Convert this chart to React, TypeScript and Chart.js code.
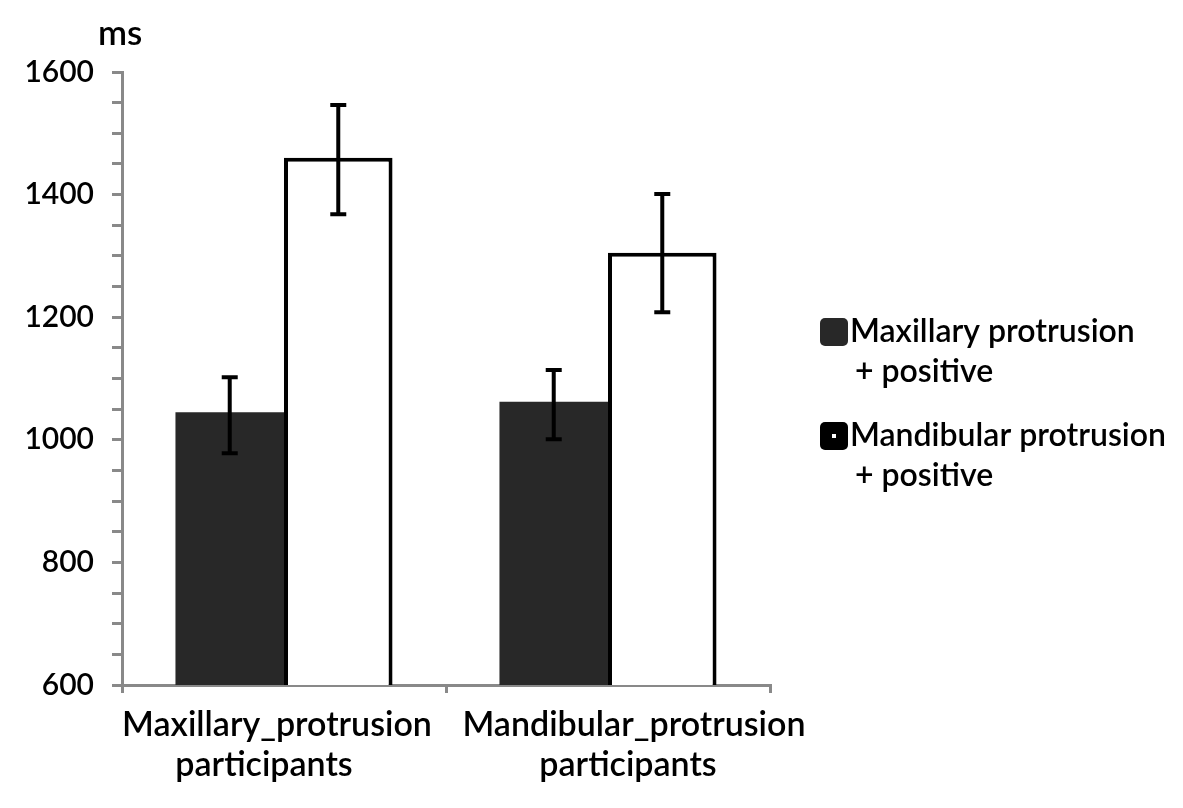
import { useEffect, useRef } from 'react';
import { Chart, registerables } from 'chart.js';

Chart.register(...registerables);

// categories on the x axis (two-line labels)
const categories = [
  ['Maxillary_protrusion', 'participants'],
  ['Mandibular_protrusion', 'participants'],
];

// legend / series names
const seriesNames = [
  ['Maxillary protrusion', '+ positive'],
  ['Mandibular protrusion', '+ positive'],
];

// mean reaction times (ms)
const maxillaryPositive = [1045, 1062];
const mandibularPositive = [1460, 1305];

// error bar ends (ms)
const maxillaryLow = [978, 1001];
const maxillaryHigh = [1102, 1114];
const mandibularLow = [1368, 1208];
const mandibularHigh = [1546, 1401];

const yMin = 600;
const yMax = 1600;
const yStep = 50;
const yLabelStep = 200;

const FONT = 'Lato, "Open Sans", sans-serif';
const WEIGHT = 600;
const AXIS_GREY = '#898989';
const DARK = '#282828';

// the original's category labels sit a little off the category centres
const labelNudge = [
  [-7, -20],
  [26, 20],
];

const errorBars = {
  id: 'errorBars',
  afterDatasetsDraw(chart: any) {
    const { ctx } = chart;
    const y = chart.scales.y;
    const ends = [
      [maxillaryLow, maxillaryHigh],
      [mandibularLow, mandibularHigh],
    ];
    ctx.save();
    ctx.strokeStyle = '#000';
    ctx.lineWidth = 4;
    chart.data.datasets.forEach((_: any, i: number) => {
      const meta = chart.getDatasetMeta(i);
      meta.data.forEach((bar: any, j: number) => {
        const lo = y.getPixelForValue(ends[i][0][j]);
        const hi = y.getPixelForValue(ends[i][1][j]);
        ctx.beginPath();
        ctx.moveTo(bar.x, lo);
        ctx.lineTo(bar.x, hi);
        ctx.moveTo(bar.x - 8, lo);
        ctx.lineTo(bar.x + 8, lo);
        ctx.moveTo(bar.x - 8, hi);
        ctx.lineTo(bar.x + 8, hi);
        ctx.stroke();
      });
    });
    ctx.restore();
  },
};

const textLayer = {
  id: 'textLayer',
  afterDraw(chart: any) {
    const { ctx, chartArea } = chart;
    const xs = chart.scales.x;
    ctx.save();
    ctx.fillStyle = '#000';

    // category labels
    ctx.font = `${WEIGHT} 34px ${FONT}`;
    ctx.textAlign = 'center';
    ctx.textBaseline = 'alphabetic';
    categories.forEach((lines, i) => {
      const cx = xs.getPixelForValue(i);
      lines.forEach((t, k) => {
        ctx.fillText(t, cx + labelNudge[i][k], chartArea.bottom + 51 + k * 40);
      });
    });

    // legend
    ctx.font = `${WEIGHT} 32px ${FONT}`;
    ctx.textAlign = 'left';
    ctx.textBaseline = 'middle';
    const x0 = chartArea.right + 50;
    const tops = [318, 422];
    seriesNames.forEach((lines, i) => {
      const top = tops[i];
      ctx.beginPath();
      ctx.roundRect(x0, top, 28, 28, 5);
      ctx.fillStyle = i === 0 ? DARK : '#000';
      ctx.fill();
      if (i === 1) {
        ctx.fillStyle = '#fff';
        ctx.fillRect(x0 + 12, top + 12, 4, 4);
      }
      ctx.fillStyle = '#000';
      ctx.fillText(lines[0], x0 + 30, top + 14);
      ctx.fillText(lines[1], x0 + 35, top + 54);
    });

    // unit label above the y axis
    ctx.font = `${WEIGHT} 35px ${FONT}`;
    ctx.fillText('ms', chartArea.left - 24, 34);
    ctx.restore();
  },
};

export default function App() {
  const canvasRef = useRef<HTMLCanvasElement>(null);
  const chartRef = useRef<Chart | null>(null);

  useEffect(() => {
    if (!canvasRef.current) return;
    if (chartRef.current) chartRef.current.destroy();

    chartRef.current = new Chart(canvasRef.current, {
      type: 'bar',
      data: {
        labels: categories.map((c) => c.join(' ')),
        datasets: [
          {
            label: seriesNames[0].join(' '),
            data: maxillaryPositive,
            backgroundColor: DARK,
            borderWidth: 0,
          },
          {
            label: seriesNames[1].join(' '),
            data: mandibularPositive,
            backgroundColor: '#fff',
            borderColor: '#000',
            borderWidth: 4,
            borderSkipped: 'bottom',
          },
        ],
      },
      options: {
        responsive: false,
        animation: false,
        datasets: {
          bar: { categoryPercentage: 0.67, barPercentage: 1 },
        },
        layout: { padding: { top: 72, right: 413, bottom: 0, left: 0 } },
        plugins: {
          legend: { display: false },
          tooltip: { enabled: false },
        },
        scales: {
          x: {
            grid: {
              display: true,
              drawOnChartArea: false,
              offset: true,
              color: AXIS_GREY,
              lineWidth: 3,
              tickLength: 8,
            },
            border: { color: AXIS_GREY, width: 3 },
            ticks: { display: false },
            afterFit: (s: any) => { s.height = 808 - 685; },
          },
          y: {
            min: yMin,
            max: yMax,
            grid: {
              display: true,
              drawOnChartArea: false,
              color: AXIS_GREY,
              lineWidth: 3,
              tickLength: 10,
            },
            border: { color: AXIS_GREY, width: 3 },
            ticks: {
              stepSize: yStep,
              autoSkip: false,
              color: '#000',
              padding: 18,
              font: { family: FONT, size: 30, weight: WEIGHT },
              callback: (v: any) => (Number(v) % yLabelStep === 0 ? String(v) : ''),
            },
            afterFit: (s: any) => { s.width = 122; },
          },
        },
      },
      plugins: [errorBars, textLayer],
    });

    return () => { chartRef.current?.destroy(); };
  }, []);

  return (
    <div style={{ position: 'fixed', left: 0, top: 0, width: 1183, height: 808, background: '#fff' }}>
      <canvas ref={canvasRef} width={1183} height={808} />
    </div>
  );
}
